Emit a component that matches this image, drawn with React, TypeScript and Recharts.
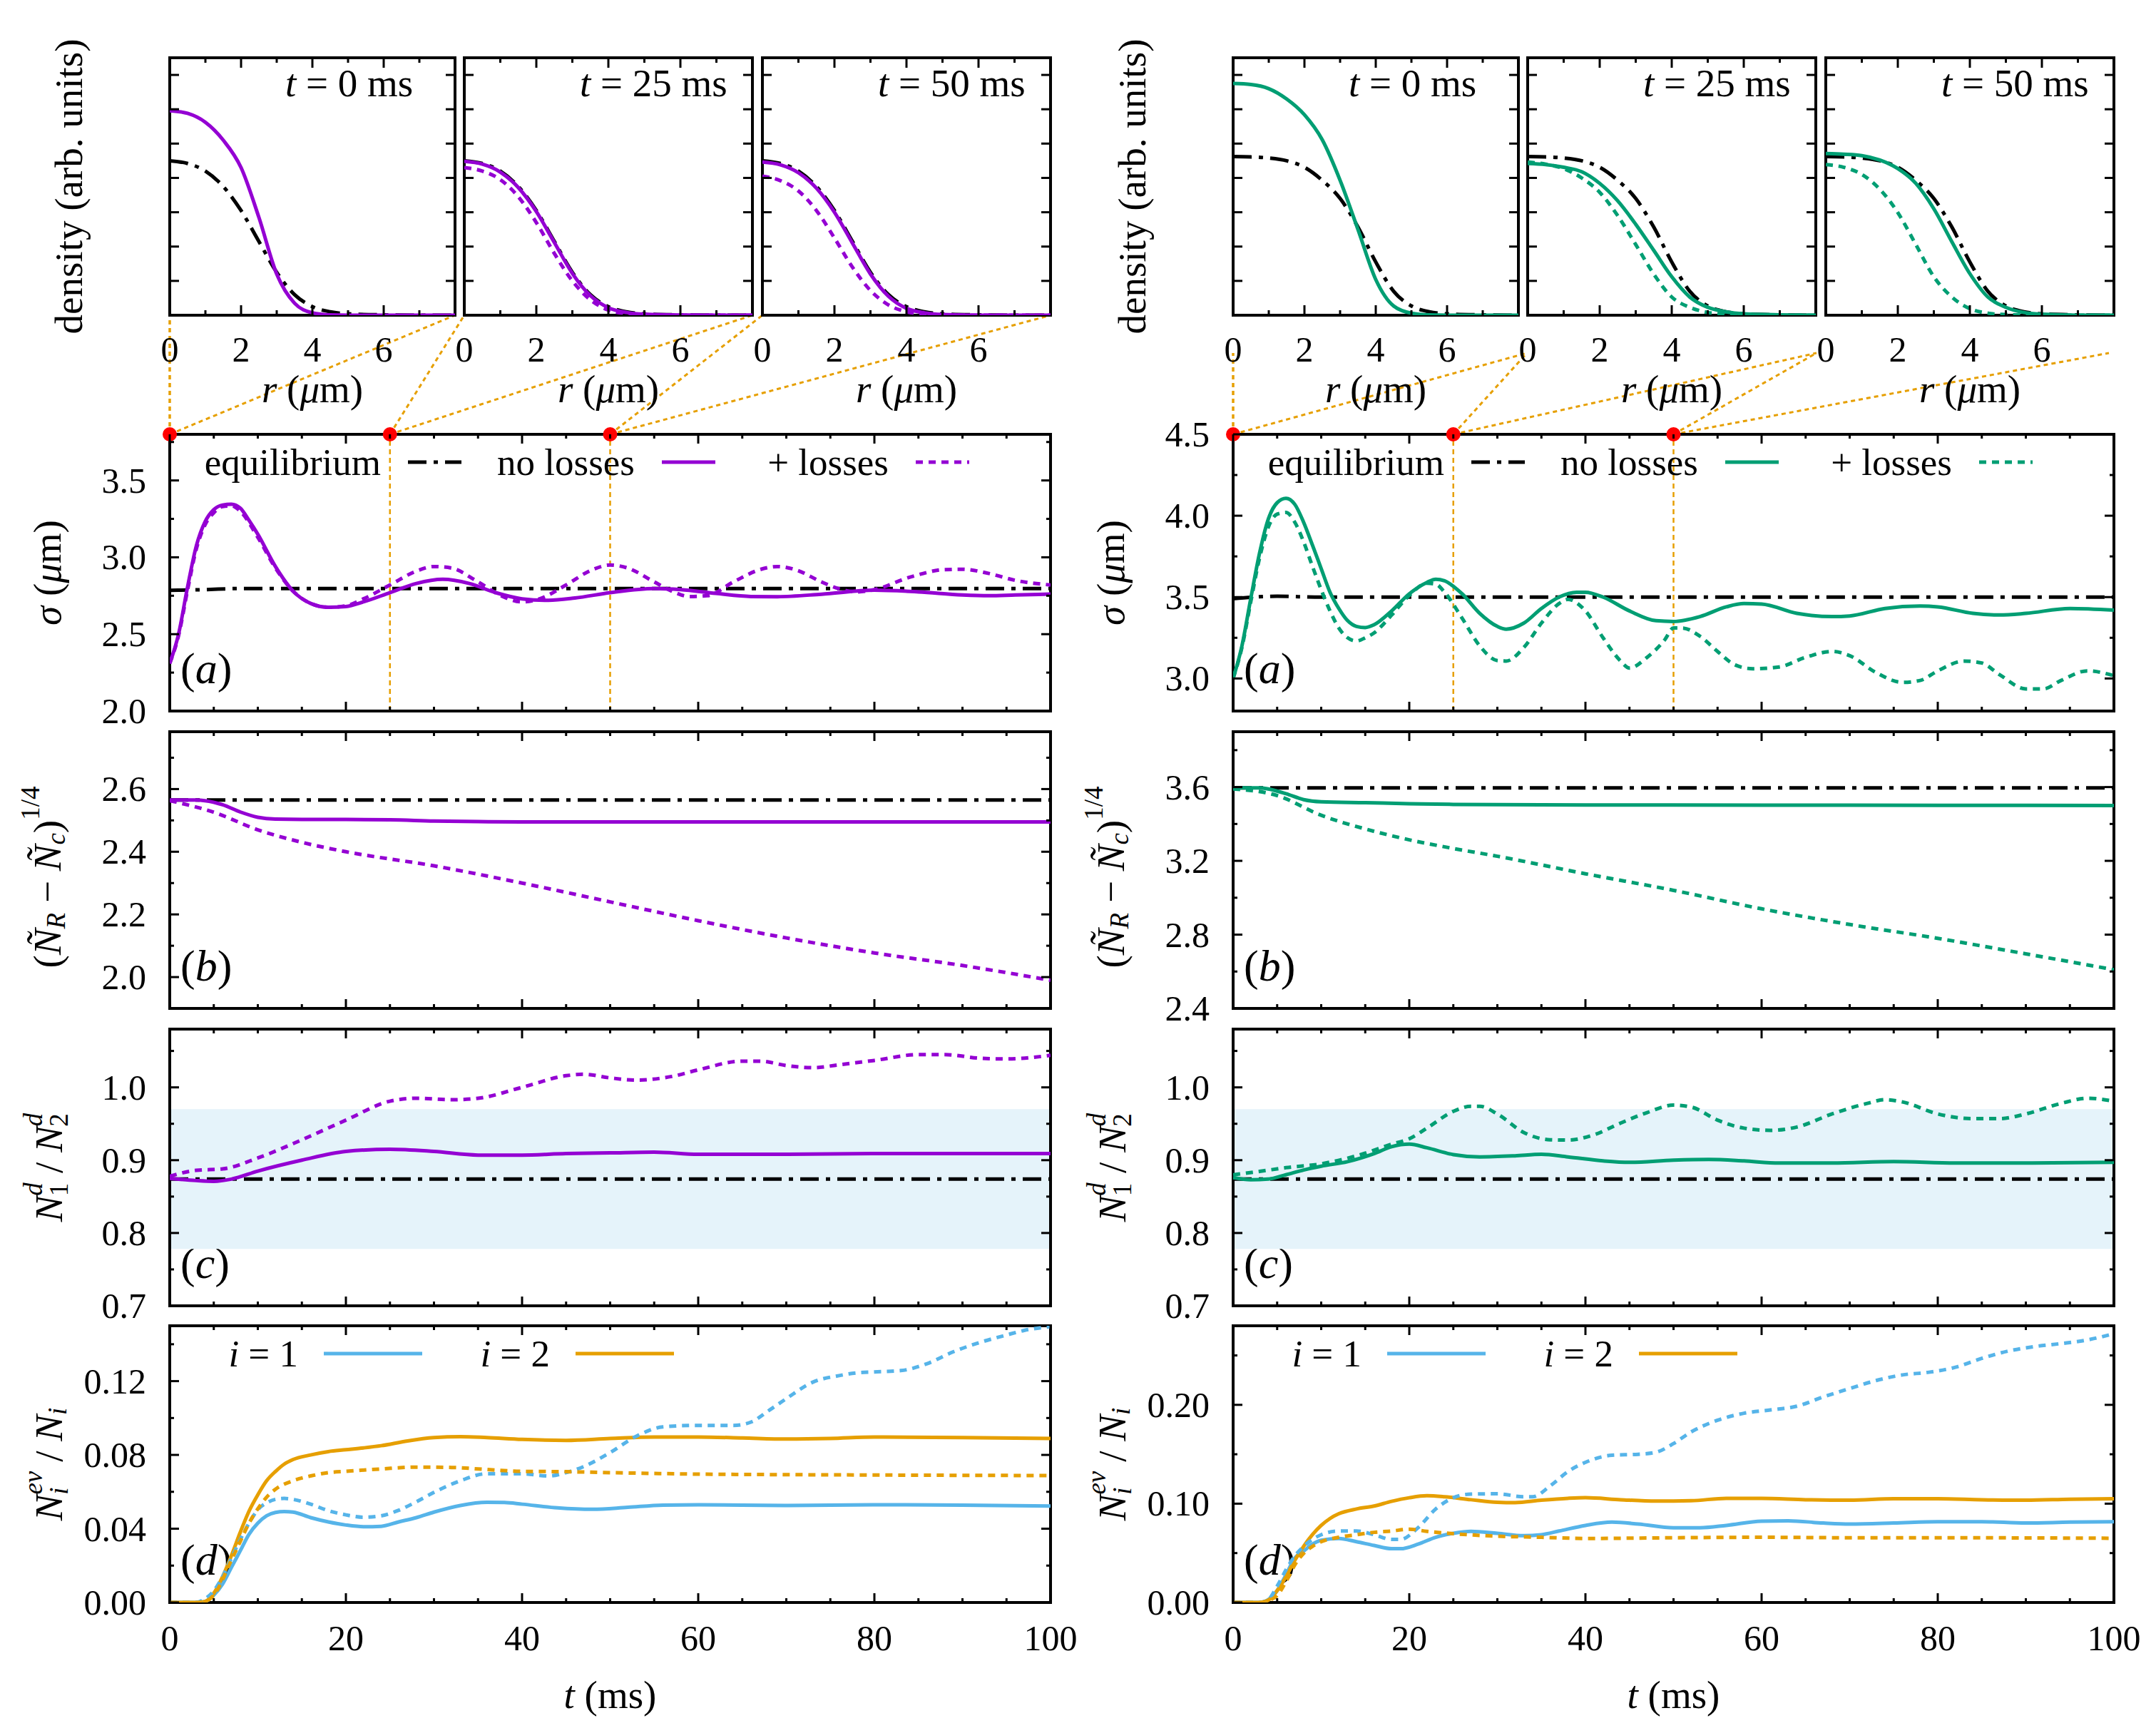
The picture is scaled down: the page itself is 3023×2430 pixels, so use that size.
import React from 'react'
import {
  LineChart,
  Line,
  XAxis,
  YAxis,
  ReferenceArea,
  ReferenceDot,
  ReferenceLine,
  Legend,
} from 'recharts'

type Pt = [number, number]

// ---------- colours / styles ----------
const FONT = '"Liberation Serif", "DejaVu Serif", serif'
const PURPLE = '#9400d3'
const GREEN = '#009e73'
const BLUE = '#56b4e9'
const ORANGE = '#e69f00'
const BAND = '#e5f3fa'
const DASH = '10 8'
const DASHDOT = '26 10 6 10'
const LABEL_FS = 55

// ---------- tick arrays ----------
const tTicks = [0, 5, 10, 15, 20, 25, 30, 35, 40, 45, 50, 55, 60, 65, 70, 75, 80, 85, 90, 95, 100]
const tMajor = [0, 20, 40, 60, 80, 100]
const rTicks = [0, 1, 2, 3, 4, 5, 6, 7]
const rMajor = [0, 2, 4, 6]
const densTicks = [1, 2, 3, 4, 5, 6, 7]
const snapshotTimes = [0, 25, 50]
const snapshotLabels = ['t = 0 ms', 't = 25 ms', 't = 50 ms']

const sigmaTicksL = [2.0, 2.25, 2.5, 2.75, 3.0, 3.25, 3.5, 3.75]
const sigmaMajorL = [2.0, 2.5, 3.0, 3.5]
const sigmaTicksR = [3.0, 3.25, 3.5, 3.75, 4.0, 4.25, 4.5]
const sigmaMajorR = [3.0, 3.5, 4.0, 4.5]
const numTicksL = [1.9, 2.0, 2.1, 2.2, 2.3, 2.4, 2.5, 2.6, 2.7]
const numMajorL = [2.0, 2.2, 2.4, 2.6]
const numTicksR = [2.4, 2.6, 2.8, 3.0, 3.2, 3.4, 3.6, 3.8]
const numMajorR = [2.4, 2.8, 3.2, 3.6]
const ratioTicks = [0.7, 0.75, 0.8, 0.85, 0.9, 0.95, 1.0, 1.05]
const ratioMajor = [0.7, 0.8, 0.9, 1.0]
const evTicksL = [0, 0.02, 0.04, 0.06, 0.08, 0.1, 0.12, 0.14]
const evMajorL = [0, 0.04, 0.08, 0.12]
const evTicksR = [0, 0.05, 0.1, 0.15, 0.2, 0.25]
const evMajorR = [0, 0.1, 0.2]
const ratioBand: [number, number] = [0.778, 0.97]

// ---------- density profiles (left, purple) ----------
const eqProfL: Pt[] = [[0, 4.5], [0.5, 4.42], [1, 4.2], [1.5, 3.75], [2, 3.05], [2.5, 2.15], [3, 1.25], [3.5, 0.6], [4, 0.25], [4.5, 0.1], [5, 0.04], [6, 0.01], [7, 0], [8, 0]]
const t0SolidL: Pt[] = [[0, 5.96], [0.5, 5.88], [1, 5.62], [1.5, 5.1], [2, 4.3], [2.5, 2.85], [3, 1.2], [3.5, 0.35], [4, 0.07], [4.5, 0.01], [5, 0], [8, 0]]
const t25SolidL: Pt[] = [[0, 4.48], [0.5, 4.4], [1, 4.17], [1.5, 3.72], [2, 3.02], [2.5, 2.12], [3, 1.22], [3.5, 0.57], [4, 0.22], [4.5, 0.08], [5, 0.03], [6, 0.005], [7, 0], [8, 0]]
const t25LossL: Pt[] = [[0, 4.3], [0.5, 4.2], [1, 3.95], [1.5, 3.45], [2, 2.7], [2.5, 1.8], [3, 1.0], [3.5, 0.45], [4, 0.15], [4.5, 0.05], [5, 0.02], [6, 0], [8, 0]]
const t50SolidL: Pt[] = [[0, 4.46], [0.5, 4.38], [1, 4.15], [1.5, 3.7], [2, 3.0], [2.5, 2.1], [3, 1.2], [3.5, 0.55], [4, 0.2], [4.5, 0.07], [5, 0.02], [6, 0], [8, 0]]
const t50LossL: Pt[] = [[0, 4.05], [0.5, 3.92], [1, 3.62], [1.5, 3.05], [2, 2.25], [2.5, 1.4], [3, 0.72], [3.5, 0.3], [4, 0.1], [4.5, 0.03], [5, 0.01], [6, 0], [8, 0]]

// ---------- density profiles (right, green) ----------
const eqProfR: Pt[] = [[0, 4.62], [0.5, 4.61], [1, 4.58], [1.5, 4.5], [2, 4.31], [2.5, 3.93], [3, 3.4], [3.5, 2.57], [4, 1.55], [4.5, 0.7], [5, 0.27], [5.5, 0.1], [6, 0.04], [7, 0.01], [8, 0]]
const t0SolidR: Pt[] = [[0, 6.75], [0.5, 6.72], [1, 6.6], [1.5, 6.3], [2, 5.84], [2.5, 5.11], [3, 3.93], [3.5, 2.5], [4, 1.04], [4.5, 0.27], [5, 0.06], [5.5, 0.01], [6, 0], [8, 0]]
const t25SolidR: Pt[] = [[0, 4.42], [0.5, 4.39], [1, 4.31], [1.5, 4.18], [2, 3.84], [2.5, 3.33], [3, 2.65], [3.5, 1.89], [4, 1.12], [4.5, 0.53], [5, 0.23], [5.5, 0.1], [6, 0.04], [7, 0.01], [8, 0]]
const t25LossR: Pt[] = [[0, 4.46], [0.5, 4.4], [1, 4.27], [1.5, 4.0], [2, 3.58], [2.5, 2.9], [3, 2.06], [3.5, 1.2], [4, 0.53], [4.5, 0.23], [5, 0.08], [5.5, 0.03], [6, 0.01], [7, 0], [8, 0]]
const t50SolidR: Pt[] = [[0, 4.71], [0.5, 4.69], [1, 4.65], [1.5, 4.52], [2, 4.27], [2.5, 3.84], [3, 3.1], [3.5, 2.14], [4, 1.21], [4.5, 0.53], [5, 0.23], [5.5, 0.08], [6, 0.03], [7, 0], [8, 0]]
const t50LossR: Pt[] = [[0, 4.39], [0.5, 4.31], [1, 4.1], [1.5, 3.67], [2, 2.99], [2.5, 2.06], [3, 1.12], [3.5, 0.53], [4, 0.19], [4.5, 0.06], [5, 0.02], [6, 0], [8, 0]]

// ---------- (a) sigma ----------
const sigmaEqL: Pt[] = [[0, 2.785], [4, 2.79], [8, 2.797], [20, 2.797], [50, 2.797], [100, 2.797]]
const sigmaNoLossL: Pt[] = [[0, 2.31], [1, 2.5], [2, 2.8], [3, 3.07], [4, 3.23], [5, 3.31], [6, 3.34], [7, 3.345], [8, 3.32], [9, 3.24], [10, 3.15], [12, 2.94], [14, 2.78], [16, 2.7], [18, 2.675], [20, 2.68], [22, 2.71], [25, 2.77], [28, 2.83], [31, 2.857], [34, 2.83], [37, 2.77], [40, 2.73], [43, 2.72], [46, 2.735], [50, 2.77], [55, 2.797], [58, 2.79], [62, 2.765], [66, 2.745], [69, 2.744], [74, 2.76], [80, 2.786], [85, 2.775], [90, 2.755], [93, 2.75], [96, 2.755], [100, 2.761]]
const sigmaLossL: Pt[] = [[0, 2.31], [1, 2.49], [2, 2.78], [3, 3.05], [4, 3.21], [5, 3.29], [6, 3.33], [7, 3.335], [8, 3.3], [10, 3.13], [12, 2.93], [14, 2.78], [16, 2.7], [18, 2.675], [20, 2.685], [22, 2.73], [25, 2.82], [28, 2.91], [30, 2.94], [32, 2.93], [35, 2.84], [38, 2.74], [40, 2.71], [42, 2.73], [45, 2.82], [48, 2.92], [50, 2.95], [52, 2.93], [55, 2.84], [57, 2.78], [59, 2.745], [61, 2.75], [64, 2.84], [67, 2.92], [69, 2.94], [71, 2.92], [74, 2.84], [76, 2.795], [78, 2.775], [80, 2.79], [84, 2.87], [88, 2.92], [90, 2.922], [93, 2.895], [96, 2.85], [100, 2.82]]
const sigmaEqR: Pt[] = [[0, 3.49], [5, 3.505], [10, 3.5], [50, 3.5], [100, 3.5]]
const sigmaNoLossR: Pt[] = [[0, 3.0], [1, 3.2], [2, 3.49], [3, 3.77], [4, 3.98], [5, 4.08], [6, 4.107], [7, 4.07], [8, 3.96], [9, 3.82], [10, 3.675], [11, 3.53], [12, 3.43], [13, 3.355], [14, 3.32], [15, 3.313], [16, 3.33], [18, 3.415], [20, 3.52], [22, 3.59], [23, 3.61], [24, 3.6], [26, 3.52], [28, 3.4], [30, 3.32], [31, 3.303], [33, 3.34], [35, 3.43], [37, 3.5], [39, 3.53], [40, 3.53], [42, 3.5], [45, 3.415], [48, 3.355], [50, 3.35], [53, 3.38], [56, 3.44], [58, 3.46], [60, 3.457], [64, 3.4], [68, 3.38], [70, 3.384], [74, 3.43], [78, 3.445], [80, 3.44], [84, 3.4], [87, 3.39], [90, 3.4], [95, 3.43], [100, 3.42]]
const sigmaLossR: Pt[] = [[0, 3.0], [1, 3.19], [2, 3.47], [3, 3.74], [4, 3.93], [5, 4.01], [6, 4.02], [7, 3.96], [8, 3.84], [9, 3.69], [10, 3.545], [11, 3.415], [12, 3.31], [13, 3.25], [14, 3.23], [15, 3.25], [16, 3.28], [18, 3.39], [20, 3.51], [22, 3.585], [23, 3.58], [24, 3.53], [26, 3.37], [28, 3.2], [30, 3.11], [31, 3.107], [33, 3.19], [35, 3.34], [37, 3.46], [38, 3.486], [40, 3.415], [42, 3.25], [44, 3.107], [45, 3.064], [47, 3.13], [49, 3.237], [50, 3.31], [51, 3.31], [53, 3.26], [55, 3.166], [57, 3.083], [59, 3.06], [62, 3.071], [65, 3.13], [68, 3.166], [70, 3.14], [73, 3.036], [76, 2.976], [78, 2.988], [80, 3.047], [83, 3.107], [85, 3.095], [87, 3.024], [90, 2.936], [92, 2.936], [94, 2.988], [97, 3.047], [100, 3.017]]

// ---------- (b) (N_R - N_c)^(1/4) ----------
const numEqL: Pt[] = [[0, 2.565], [50, 2.565], [100, 2.565]]
const numNoLossL: Pt[] = [[0, 2.565], [3, 2.565], [4, 2.563], [6, 2.55], [8, 2.527], [10, 2.51], [12, 2.504], [15, 2.503], [20, 2.503], [25, 2.502], [30, 2.498], [35, 2.496], [40, 2.495], [60, 2.495], [80, 2.495], [100, 2.495]]
const numLossL: Pt[] = [[0, 2.563], [5, 2.526], [10, 2.47], [15, 2.43], [20, 2.4], [30, 2.355], [40, 2.3], [50, 2.24], [60, 2.18], [70, 2.125], [80, 2.077], [90, 2.037], [100, 1.99]]
const numEqR: Pt[] = [[0, 3.596], [50, 3.596], [100, 3.596]]
const numNoLossR: Pt[] = [[0, 3.596], [3, 3.596], [4, 3.59], [6, 3.564], [8, 3.532], [10, 3.52], [15, 3.515], [20, 3.51], [25, 3.506], [40, 3.503], [60, 3.502], [80, 3.501], [100, 3.5]]
const numLossR: Pt[] = [[0, 3.59], [5, 3.554], [10, 3.447], [15, 3.373], [20, 3.314], [25, 3.267], [30, 3.225], [40, 3.13], [50, 3.04], [60, 2.94], [70, 2.855], [80, 2.78], [90, 2.696], [100, 2.61]]

// ---------- (c) N1^d / N2^d ----------
const ratioEqL: Pt[] = [[0, 0.874], [50, 0.874], [100, 0.874]]
const ratioNoLossL: Pt[] = [[0, 0.875], [3, 0.872], [5, 0.871], [7, 0.874], [10, 0.885], [15, 0.9], [20, 0.912], [25, 0.915], [30, 0.912], [35, 0.907], [40, 0.907], [45, 0.909], [50, 0.91], [55, 0.911], [60, 0.908], [70, 0.908], [80, 0.909], [90, 0.909], [100, 0.909]]
const ratioLossL: Pt[] = [[0, 0.878], [3, 0.886], [6, 0.888], [10, 0.903], [15, 0.928], [20, 0.955], [25, 0.981], [28, 0.985], [32, 0.983], [35, 0.985], [40, 1.0], [45, 1.016], [47, 1.018], [50, 1.013], [53, 1.01], [57, 1.015], [60, 1.024], [65, 1.036], [67, 1.036], [70, 1.03], [73, 1.027], [76, 1.031], [80, 1.037], [85, 1.045], [88, 1.045], [92, 1.04], [95, 1.039], [100, 1.044]]
const ratioEqR: Pt[] = [[0, 0.874], [50, 0.874], [100, 0.874]]
const ratioNoLossR: Pt[] = [[0, 0.876], [2, 0.873], [4, 0.874], [6, 0.88], [8, 0.8865], [10, 0.8917], [13, 0.898], [16, 0.909], [18, 0.9186], [20, 0.922], [22, 0.917], [25, 0.9077], [28, 0.9045], [32, 0.906], [35, 0.908], [38, 0.9045], [42, 0.899], [45, 0.897], [50, 0.9], [54, 0.901], [58, 0.899], [62, 0.896], [68, 0.896], [75, 0.898], [82, 0.896], [90, 0.896], [100, 0.897]]
const ratioLossR: Pt[] = [[0, 0.88], [3, 0.8846], [6, 0.8897], [10, 0.895], [14, 0.906], [18, 0.922], [20, 0.9295], [22, 0.944], [25, 0.967], [27, 0.974], [28, 0.974], [30, 0.9635], [33, 0.938], [36, 0.928], [38, 0.9276], [41, 0.935], [44, 0.951], [47, 0.9654], [50, 0.9756], [52, 0.973], [55, 0.955], [58, 0.944], [61, 0.941], [64, 0.9455], [68, 0.9635], [72, 0.978], [74, 0.983], [76, 0.98], [80, 0.9635], [84, 0.957], [87, 0.957], [90, 0.9635], [94, 0.978], [97, 0.985], [100, 0.981]]

// ---------- (d) N_i^ev / N_i ----------
const ev1SolidL: Pt[] = [[0, 0], [3, 0], [4, 0.0005], [5, 0.004], [6, 0.01], [7, 0.019], [8, 0.028], [9, 0.037], [10, 0.043], [11, 0.047], [12, 0.0488], [13, 0.0493], [14, 0.049], [16, 0.046], [18, 0.0437], [20, 0.042], [22, 0.0411], [24, 0.0413], [26, 0.0437], [28, 0.046], [30, 0.049], [33, 0.0526], [36, 0.0543], [38, 0.0542], [40, 0.0533], [44, 0.0513], [48, 0.0505], [52, 0.0516], [56, 0.0528], [60, 0.053], [70, 0.0526], [80, 0.053], [90, 0.0528], [100, 0.0523]]
const ev2SolidL: Pt[] = [[0, 0], [3, 0], [4, 0.0005], [5, 0.005], [6, 0.014], [7, 0.0254], [8, 0.038], [9, 0.0495], [10, 0.0584], [11, 0.066], [12, 0.071], [13, 0.075], [14, 0.0775], [16, 0.08], [18, 0.0818], [20, 0.0828], [22, 0.0838], [24, 0.085], [27, 0.0876], [30, 0.0894], [33, 0.0899], [36, 0.0894], [40, 0.0884], [45, 0.0879], [50, 0.0889], [55, 0.0897], [60, 0.0897], [65, 0.0892], [70, 0.0886], [75, 0.0889], [80, 0.0897], [90, 0.0894], [100, 0.0889]]
const ev1LossL: Pt[] = [[0, 0], [3, 0], [4, 0.002], [5, 0.0063], [6, 0.014], [7, 0.024], [8, 0.034], [9, 0.043], [10, 0.0503], [11, 0.054], [12, 0.0559], [13, 0.0564], [14, 0.0559], [16, 0.0533], [18, 0.0498], [20, 0.0475], [22, 0.0462], [24, 0.047], [26, 0.05], [28, 0.0546], [30, 0.0597], [33, 0.066], [36, 0.0698], [40, 0.0698], [43, 0.0686], [45, 0.0704], [47, 0.0737], [50, 0.0813], [53, 0.0902], [56, 0.0952], [60, 0.096], [64, 0.096], [66, 0.0978], [68, 0.104], [70, 0.1105], [73, 0.1194], [76, 0.123], [78, 0.1245], [80, 0.125], [83, 0.1257], [86, 0.1295], [89, 0.136], [92, 0.141], [95, 0.145], [97, 0.1475], [100, 0.1495]]
const ev2LossL: Pt[] = [[0, 0], [3, 0], [4, 0.0005], [5, 0.004], [7, 0.023], [8, 0.033], [9, 0.043], [10, 0.0508], [11, 0.0571], [12, 0.0614], [14, 0.066], [16, 0.0686], [18, 0.0704], [20, 0.0711], [24, 0.0724], [28, 0.0734], [32, 0.0732], [36, 0.0721], [40, 0.0711], [45, 0.0709], [50, 0.0704], [60, 0.0696], [70, 0.0693], [80, 0.0691], [100, 0.0688]]
const ev1SolidR: Pt[] = [[0, 0], [3, 0], [4, 0.003], [5, 0.012], [6, 0.028], [7, 0.045], [8, 0.052], [9, 0.059], [10, 0.063], [12, 0.0648], [14, 0.0615], [16, 0.0577], [18, 0.0544], [19, 0.0544], [21, 0.059], [23, 0.066], [25, 0.07], [27, 0.072], [30, 0.07], [33, 0.0676], [35, 0.0686], [37, 0.0723], [40, 0.078], [43, 0.0813], [46, 0.0794], [50, 0.0756], [53, 0.0756], [56, 0.078], [60, 0.0823], [63, 0.0827], [67, 0.0804], [70, 0.0794], [75, 0.0804], [80, 0.0818], [85, 0.0818], [90, 0.0804], [95, 0.0813], [100, 0.0818]]
const ev2SolidR: Pt[] = [[0, 0], [3, 0], [4, 0.0024], [5, 0.012], [6, 0.026], [7, 0.0426], [8, 0.0567], [9, 0.0686], [10, 0.078], [11, 0.085], [12, 0.0898], [14, 0.0946], [16, 0.0976], [18, 0.1024], [20, 0.106], [22, 0.108], [24, 0.107], [27, 0.104], [30, 0.1014], [32, 0.101], [35, 0.1035], [38, 0.1054], [40, 0.106], [44, 0.104], [48, 0.1026], [52, 0.103], [56, 0.1054], [60, 0.1054], [65, 0.104], [70, 0.1035], [75, 0.105], [80, 0.105], [85, 0.104], [90, 0.1035], [95, 0.1045], [100, 0.105]]
const ev1LossR: Pt[] = [[0, 0], [3, 0], [4, 0.003], [5, 0.0165], [6, 0.033], [7, 0.047], [8, 0.0567], [9, 0.0638], [10, 0.0686], [12, 0.0723], [14, 0.0723], [16, 0.0686], [18, 0.0638], [19, 0.0638], [21, 0.0757], [23, 0.0946], [25, 0.106], [27, 0.1097], [30, 0.11], [33, 0.107], [34, 0.107], [36, 0.118], [38, 0.1324], [40, 0.1418], [43, 0.149], [46, 0.15], [48, 0.152], [50, 0.1608], [52, 0.1726], [55, 0.1844], [58, 0.1915], [61, 0.1948], [64, 0.1986], [67, 0.208], [70, 0.2165], [73, 0.2246], [76, 0.2303], [79, 0.233], [82, 0.238], [85, 0.247], [88, 0.2544], [91, 0.259], [94, 0.262], [97, 0.2657], [100, 0.272]]
const ev2LossR: Pt[] = [[0, 0], [3, 0], [4, 0.002], [5, 0.007], [6, 0.021], [7, 0.038], [8, 0.0496], [9, 0.0567], [10, 0.0615], [12, 0.066], [14, 0.0686], [16, 0.071], [18, 0.0723], [20, 0.0742], [22, 0.072], [25, 0.0696], [30, 0.0671], [35, 0.066], [40, 0.0648], [50, 0.0655], [60, 0.066], [70, 0.0655], [80, 0.0655], [100, 0.065]]

// ---------- layout ----------
const W = 3023
const H = 2430
const COL_X = [238, 1729]
const PW = 1235
const PH = 388
const PANEL_TOP = [609, 1026, 1443, 1859]
const INSET_TOP = 81
const INSET_H = 361
const INSET_OFF = [0, 413, 831]
const INSET_W = [400, 404, 404]
const ML = 230
const MR = 70
const MT = 30
const MB = 100

interface Series {
  pts: Pt[]
  color: string
  dash?: string
  name?: string
}

interface LegendCfg {
  start: number
  step: number
  len: number
  gap: number
  cy: number
}

const near = (list: number[], v: number) => list.some((m) => Math.abs(m - v) < 1e-6)

function mathText(s: string) {
  if (s.startsWith('i =')) {
    return (
      <>
        <tspan fontStyle="italic">i</tspan>
        {s.slice(1)}
      </>
    )
  }
  return s
}

interface PanelProps {
  x: number
  y: number
  w: number
  h: number
  xDomain: [number, number]
  yDomain: [number, number]
  xTicks: number[]
  xMajor: number[]
  yTicks: number[]
  yMajor: number[]
  xFmt?: (v: number) => string
  yFmt?: (v: number) => string
  xMaj: number
  xMin: number
  yMaj: number
  yMin: number
  xLabelDy: number
  series: Series[]
  band?: [number, number]
  marks?: number[]
  legend?: LegendCfg
  ml?: number
  mr?: number
  mt?: number
  mb?: number
}

function Panel(p: PanelProps) {
  const ml = p.ml ?? ML
  const mr = p.mr ?? MR
  const mt = p.mt ?? MT
  const mb = p.mb ?? MB
  const cw = p.w + ml + mr
  const ch = p.h + mt + mb

  const xTick = (t: any) => {
    const v = t.payload.value
    const major = near(p.xMajor, v)
    const len = major ? p.xMaj : p.xMin
    return (
      <g>
        <line x1={t.x} x2={t.x} y1={t.y} y2={t.y - len} stroke="#000" strokeWidth={3} />
        <line x1={t.x} x2={t.x} y1={t.y - p.h} y2={t.y - p.h + len} stroke="#000" strokeWidth={3} />
        {p.xFmt && major ? (
          <text x={t.x} y={t.y + p.xLabelDy} textAnchor="middle" dominantBaseline="central" fontFamily={FONT} fontSize={50} fill="#000">
            {p.xFmt(v)}
          </text>
        ) : null}
      </g>
    )
  }

  const yTick = (t: any) => {
    const v = t.payload.value
    const major = near(p.yMajor, v)
    const len = major ? p.yMaj : p.yMin
    return (
      <g>
        <line x1={t.x} x2={t.x + len} y1={t.y} y2={t.y} stroke="#000" strokeWidth={3} />
        <line x1={t.x + p.w} x2={t.x + p.w - len} y1={t.y} y2={t.y} stroke="#000" strokeWidth={3} />
        {p.yFmt && major ? (
          <text x={t.x - 33} y={t.y} textAnchor="end" dominantBaseline="central" fontFamily={FONT} fontSize={50} fill="#000">
            {p.yFmt(v)}
          </text>
        ) : null}
      </g>
    )
  }

  const order = (name: string) => p.series.findIndex((s) => s.name === name)

  const legendContent = (cfg: LegendCfg) => (lp: any) => {
    const entries = (lp.payload ?? [])
      .filter((e: any) => e.value && e.type !== 'none')
      .slice()
      .sort((a: any, b: any) => order(String(a.value)) - order(String(b.value)))
    return (
      <svg width={cw} height={mt + 80} style={{ display: 'block', overflow: 'visible' }}>
        {entries.map((e: any, i: number) => {
          const s = p.series.find((q) => q.name === e.value)
          const x0 = ml + cfg.start + i * cfg.step
          const yy = mt + cfg.cy
          return (
            <g key={i}>
              <text x={x0 - cfg.gap} y={yy} textAnchor="end" dominantBaseline="central" fontFamily={FONT} fontSize={53} fill="#000">
                {mathText(String(e.value))}
              </text>
              <line x1={x0} x2={x0 + cfg.len} y1={yy} y2={yy} stroke={s?.color ?? e.color} strokeWidth={5} strokeDasharray={s?.dash} />
            </g>
          )
        })}
      </svg>
    )
  }

  return (
    <div style={{ position: 'absolute', left: p.x - ml, top: p.y - mt }}>
      <LineChart width={cw} height={ch} margin={{ top: mt, right: mr, bottom: mb - 1, left: ml - 1 }}>
        <XAxis
          xAxisId="x"
          dataKey="x"
          type="number"
          domain={p.xDomain}
          ticks={p.xTicks}
          interval={0}
          height={1}
          tickSize={0}
          tickMargin={0}
          tickLine={false}
          axisLine={false}
          allowDataOverflow
          tick={xTick}
        />
        <YAxis
          yAxisId="y"
          type="number"
          domain={p.yDomain}
          ticks={p.yTicks}
          interval={0}
          width={1}
          tickSize={0}
          tickMargin={0}
          tickLine={false}
          axisLine={false}
          allowDataOverflow
          tick={yTick}
        />
        {p.band ? (
          <ReferenceArea
            xAxisId="x"
            yAxisId="y"
            x1={p.xDomain[0]}
            x2={p.xDomain[1]}
            y1={p.band[0]}
            y2={p.band[1]}
            fill={BAND}
            fillOpacity={1}
            stroke="none"
          />
        ) : null}
        {(p.marks ?? []).filter((t) => t > 0).map((t) => (
          <ReferenceLine key={'v' + t} xAxisId="x" yAxisId="y" x={t} stroke={ORANGE} strokeWidth={2.5} strokeDasharray="7 5" />
        ))}
        {p.series.map((s, i) => (
          <Line
            key={i}
            xAxisId="x"
            yAxisId="y"
            data={s.pts.map(([x, y]) => ({ x, y }))}
            dataKey="y"
            type="monotone"
            stroke={s.color}
            strokeWidth={5}
            strokeDasharray={s.dash}
            dot={false}
            activeDot={false}
            name={s.name}
            legendType={s.name ? 'line' : 'none'}
            isAnimationActive={false}
          />
        ))}
        <ReferenceArea
          xAxisId="x"
          yAxisId="y"
          x1={p.xDomain[0]}
          x2={p.xDomain[1]}
          y1={p.yDomain[0]}
          y2={p.yDomain[1]}
          fill="none"
          stroke="#000"
          strokeWidth={4}
        />
        {(p.marks ?? []).map((t) => (
          <ReferenceDot key={'d' + t} xAxisId="x" yAxisId="y" x={t} y={p.yDomain[1]} r={10} fill="#ff0000" stroke="none" />
        ))}
        {p.legend ? (
          <Legend
            layout="horizontal"
            verticalAlign="middle"
            align="center"
            wrapperStyle={{ left: 0, top: 0, margin: 0, padding: 0 }}
            content={legendContent(p.legend)}
          />
        ) : null}
      </LineChart>
    </div>
  )
}

interface ColumnData {
  color: string
  eqProf: Pt[]
  profiles: { solid: Pt[]; loss?: Pt[] }[]
  sigma: { eq: Pt[]; no: Pt[]; loss: Pt[]; domain: [number, number]; ticks: number[]; major: number[] }
  num: { eq: Pt[]; no: Pt[]; loss: Pt[]; domain: [number, number]; ticks: number[]; major: number[] }
  ratio: { eq: Pt[]; no: Pt[]; loss: Pt[] }
  ev: { s1: Pt[]; s2: Pt[]; l1: Pt[]; l2: Pt[]; domain: [number, number]; ticks: number[]; major: number[] }
  connectorY: number
  connectorEnds: [number, number][]
}

const columns: ColumnData[] = [
  {
    color: PURPLE,
    eqProf: eqProfL,
    profiles: [{ solid: t0SolidL }, { solid: t25SolidL, loss: t25LossL }, { solid: t50SolidL, loss: t50LossL }],
    sigma: { eq: sigmaEqL, no: sigmaNoLossL, loss: sigmaLossL, domain: [2.0, 3.8], ticks: sigmaTicksL, major: sigmaMajorL },
    num: { eq: numEqL, no: numNoLossL, loss: numLossL, domain: [1.9, 2.783], ticks: numTicksL, major: numMajorL },
    ratio: { eq: ratioEqL, no: ratioNoLossL, loss: ratioLossL },
    ev: { s1: ev1SolidL, s2: ev2SolidL, l1: ev1LossL, l2: ev2LossL, domain: [0, 0.15], ticks: evTicksL, major: evMajorL },
    connectorY: 442,
    connectorEnds: [[0, 400], [413, 817], [831, 1235]],
  },
  {
    color: GREEN,
    eqProf: eqProfR,
    profiles: [{ solid: t0SolidR }, { solid: t25SolidR, loss: t25LossR }, { solid: t50SolidR, loss: t50LossR }],
    sigma: { eq: sigmaEqR, no: sigmaNoLossR, loss: sigmaLossR, domain: [2.8, 4.5], ticks: sigmaTicksR, major: sigmaMajorR },
    num: { eq: numEqR, no: numNoLossR, loss: numLossR, domain: [2.4, 3.9], ticks: numTicksR, major: numMajorR },
    ratio: { eq: ratioEqR, no: ratioNoLossR, loss: ratioLossR },
    ev: { s1: ev1SolidR, s2: ev2SolidR, l1: ev1LossR, l2: ev2LossR, domain: [0, 0.28], ticks: evTicksR, major: evMajorR },
    connectorY: 495,
    connectorEnds: [[0, 412], [412, 818], [818, 1228]],
  },
]

const f1 = (v: number) => v.toFixed(1)
const f2 = (v: number) => v.toFixed(2)
const f0 = (v: number) => String(Math.round(v))

const SUB = 37

function Labels({ c }: { c: number }) {
  const cx = COL_X[c]
  const col = columns[c]
  const txt = { fontFamily: FONT, fill: '#000' }
  const midY = (i: number) => PANEL_TOP[i] + PH / 2
  const rot = (x: number, y: number) => `rotate(-90 ${x} ${y})`
  const yl = cx - 172
  return (
    <g {...txt}>
      {/* connectors from the sigma panel to the density insets */}
      {snapshotTimes.map((t, i) => {
        const dx = cx + (t / 100) * PW
        const [a, b] = col.connectorEnds[i]
        return (
          <g key={t} stroke={ORANGE} strokeWidth={3} strokeDasharray="6 5" fill="none">
            <line x1={dx} y1={PANEL_TOP[0]} x2={cx + a} y2={col.connectorY} />
            <line x1={dx} y1={PANEL_TOP[0]} x2={cx + b} y2={col.connectorY} />
          </g>
        )
      })}
      {/* inset titles and axis labels */}
      {snapshotLabels.map((s, i) => (
        <g key={s}>
          <text x={cx + INSET_OFF[i] + 162} y={116} fontSize={LABEL_FS} dominantBaseline="central">
            <tspan fontStyle="italic">t</tspan>
            {s.slice(1)}
          </text>
          <text x={cx + INSET_OFF[i] + INSET_W[i] / 2} y={545} fontSize={LABEL_FS} textAnchor="middle" dominantBaseline="central">
            <tspan fontStyle="italic">r</tspan> (<tspan fontStyle="italic">μ</tspan>m)
          </text>
        </g>
      ))}
      <text x={cx - 142} y={INSET_TOP + INSET_H / 2} fontSize={LABEL_FS} textAnchor="middle" dominantBaseline="central" transform={rot(cx - 142, INSET_TOP + INSET_H / 2)}>
        density (arb. units)
      </text>
      {/* y labels of the main panels */}
      <text x={yl} y={midY(0)} fontSize={LABEL_FS} textAnchor="middle" dominantBaseline="central" transform={rot(yl, midY(0))}>
        <tspan fontStyle="italic">σ</tspan> (<tspan fontStyle="italic">μ</tspan>m)
      </text>
      <text x={yl} y={midY(1) + 10} fontSize={LABEL_FS} textAnchor="middle" dominantBaseline="central" transform={rot(yl, midY(1) + 10)}>
        (<tspan fontStyle="italic">Ñ</tspan>
        <tspan fontSize={SUB} fontStyle="italic" dy={12}>R</tspan>
        <tspan dy={-12}> − </tspan>
        <tspan fontStyle="italic">Ñ</tspan>
        <tspan fontSize={SUB} fontStyle="italic" dy={12}>c</tspan>
        <tspan dy={-12}>)</tspan>
        <tspan fontSize={SUB} dy={-24}>1/4</tspan>
      </text>
      <text x={yl + 2} y={midY(2)} fontSize={LABEL_FS} textAnchor="middle" dominantBaseline="central" transform={rot(yl + 2, midY(2))}>
        <tspan fontStyle="italic">N</tspan>
        <tspan fontSize={SUB} fontStyle="italic" dy={-22}>d</tspan>
        <tspan fontSize={SUB} dx={-19} dy={36}>1</tspan>
        <tspan dy={-14}> / </tspan>
        <tspan fontStyle="italic">N</tspan>
        <tspan fontSize={SUB} fontStyle="italic" dy={-22}>d</tspan>
        <tspan fontSize={SUB} dx={-19} dy={36}>2</tspan>
      </text>
      <text x={yl + 2} y={midY(3)} fontSize={LABEL_FS} textAnchor="middle" dominantBaseline="central" transform={rot(yl + 2, midY(3))}>
        <tspan fontStyle="italic">N</tspan>
        <tspan fontSize={SUB} fontStyle="italic" dy={-22}>ev</tspan>
        <tspan fontSize={SUB} fontStyle="italic" dx={-33} dy={36}>i</tspan>
        <tspan dx={22} dy={-14}> / </tspan>
        <tspan fontStyle="italic">N</tspan>
        <tspan fontSize={SUB} fontStyle="italic" dy={12}>i</tspan>
      </text>
      <text x={cx + PW / 2} y={2376} fontSize={LABEL_FS} textAnchor="middle" dominantBaseline="central">
        <tspan fontStyle="italic">t</tspan> (ms)
      </text>
      {/* panel letters */}
      {['a', 'b', 'c', 'd'].map((l, i) => (
        <text key={l} x={cx + 15} y={PANEL_TOP[i] + PH - 60} fontSize={62} dominantBaseline="central">
          (<tspan fontStyle="italic">{l}</tspan>)
        </text>
      ))}
      {/* vertical connector from t = 0 */}
      <line x1={cx} y1={PANEL_TOP[0]} x2={cx} y2={col.connectorY} stroke={ORANGE} strokeWidth={3} strokeDasharray="6 5" />
    </g>
  )
}

function Column({ c }: { c: number }) {
  const cx = COL_X[c]
  const col = columns[c]
  const main = {
    w: PW,
    h: PH,
    xDomain: [0, 100] as [number, number],
    xTicks: tTicks,
    xMajor: tMajor,
    xMaj: 13,
    xMin: 6,
    yMaj: 13,
    yMin: 6,
    xLabelDy: 50,
  }
  return (
    <>
      {col.profiles.map((pr, i) => (
        <Panel
          key={i}
          x={cx + INSET_OFF[i]}
          y={INSET_TOP}
          w={INSET_W[i]}
          h={INSET_H}
          xDomain={[0, 8]}
          yDomain={[0, 7.5]}
          xTicks={rTicks}
          xMajor={rMajor}
          yTicks={densTicks}
          yMajor={densTicks}
          xFmt={f0}
          xMaj={14}
          xMin={7}
          yMaj={13}
          yMin={13}
          xLabelDy={48}
          ml={20}
          mr={20}
          mt={20}
          mb={80}
          series={[
            { pts: col.eqProf, color: '#000', dash: DASHDOT },
            ...(pr.loss ? [{ pts: pr.loss, color: col.color, dash: DASH }] : []),
            { pts: pr.solid, color: col.color },
          ]}
        />
      ))}
      <Panel
        {...main}
        x={cx}
        y={PANEL_TOP[0]}
        yDomain={col.sigma.domain}
        yTicks={col.sigma.ticks}
        yMajor={col.sigma.major}
        yFmt={f1}
        marks={snapshotTimes}
        legend={{ start: 334, step: 356, len: 75, gap: 38, cy: 39 }}
        series={[
          { pts: col.sigma.eq, color: '#000', dash: DASHDOT, name: 'equilibrium' },
          { pts: col.sigma.no, color: col.color, name: 'no losses' },
          { pts: col.sigma.loss, color: col.color, dash: DASH, name: '+ losses' },
        ]}
      />
      <Panel
        {...main}
        x={cx}
        y={PANEL_TOP[1]}
        yDomain={col.num.domain}
        yTicks={col.num.ticks}
        yMajor={col.num.major}
        yFmt={f1}
        series={[
          { pts: col.num.eq, color: '#000', dash: DASHDOT },
          { pts: col.num.no, color: col.color },
          { pts: col.num.loss, color: col.color, dash: DASH },
        ]}
      />
      <Panel
        {...main}
        x={cx}
        y={PANEL_TOP[2]}
        yDomain={[0.7, 1.08]}
        yTicks={ratioTicks}
        yMajor={ratioMajor}
        yFmt={f1}
        band={ratioBand}
        series={[
          { pts: col.ratio.eq, color: '#000', dash: DASHDOT },
          { pts: col.ratio.no, color: col.color },
          { pts: col.ratio.loss, color: col.color, dash: DASH },
        ]}
      />
      <Panel
        {...main}
        x={cx}
        y={PANEL_TOP[3]}
        yDomain={col.ev.domain}
        yTicks={col.ev.ticks}
        yMajor={col.ev.major}
        yFmt={f2}
        xFmt={f0}
        legend={{ start: 216, step: 353, len: 138, gap: 36, cy: 39 }}
        series={[
          { pts: col.ev.s1, color: BLUE, name: 'i = 1' },
          { pts: col.ev.s2, color: ORANGE, name: 'i = 2' },
          { pts: col.ev.l1, color: BLUE, dash: DASH },
          { pts: col.ev.l2, color: ORANGE, dash: DASH },
        ]}
      />
    </>
  )
}

export default function App() {
  return (
    <div style={{ position: 'absolute', left: 0, top: 0, width: W, height: H, background: '#fff', overflow: 'hidden' }}>
      <svg width={W} height={H} style={{ position: 'absolute', left: 0, top: 0 }}>
        <Labels c={0} />
        <Labels c={1} />
      </svg>
      <Column c={0} />
      <Column c={1} />
    </div>
  )
}
